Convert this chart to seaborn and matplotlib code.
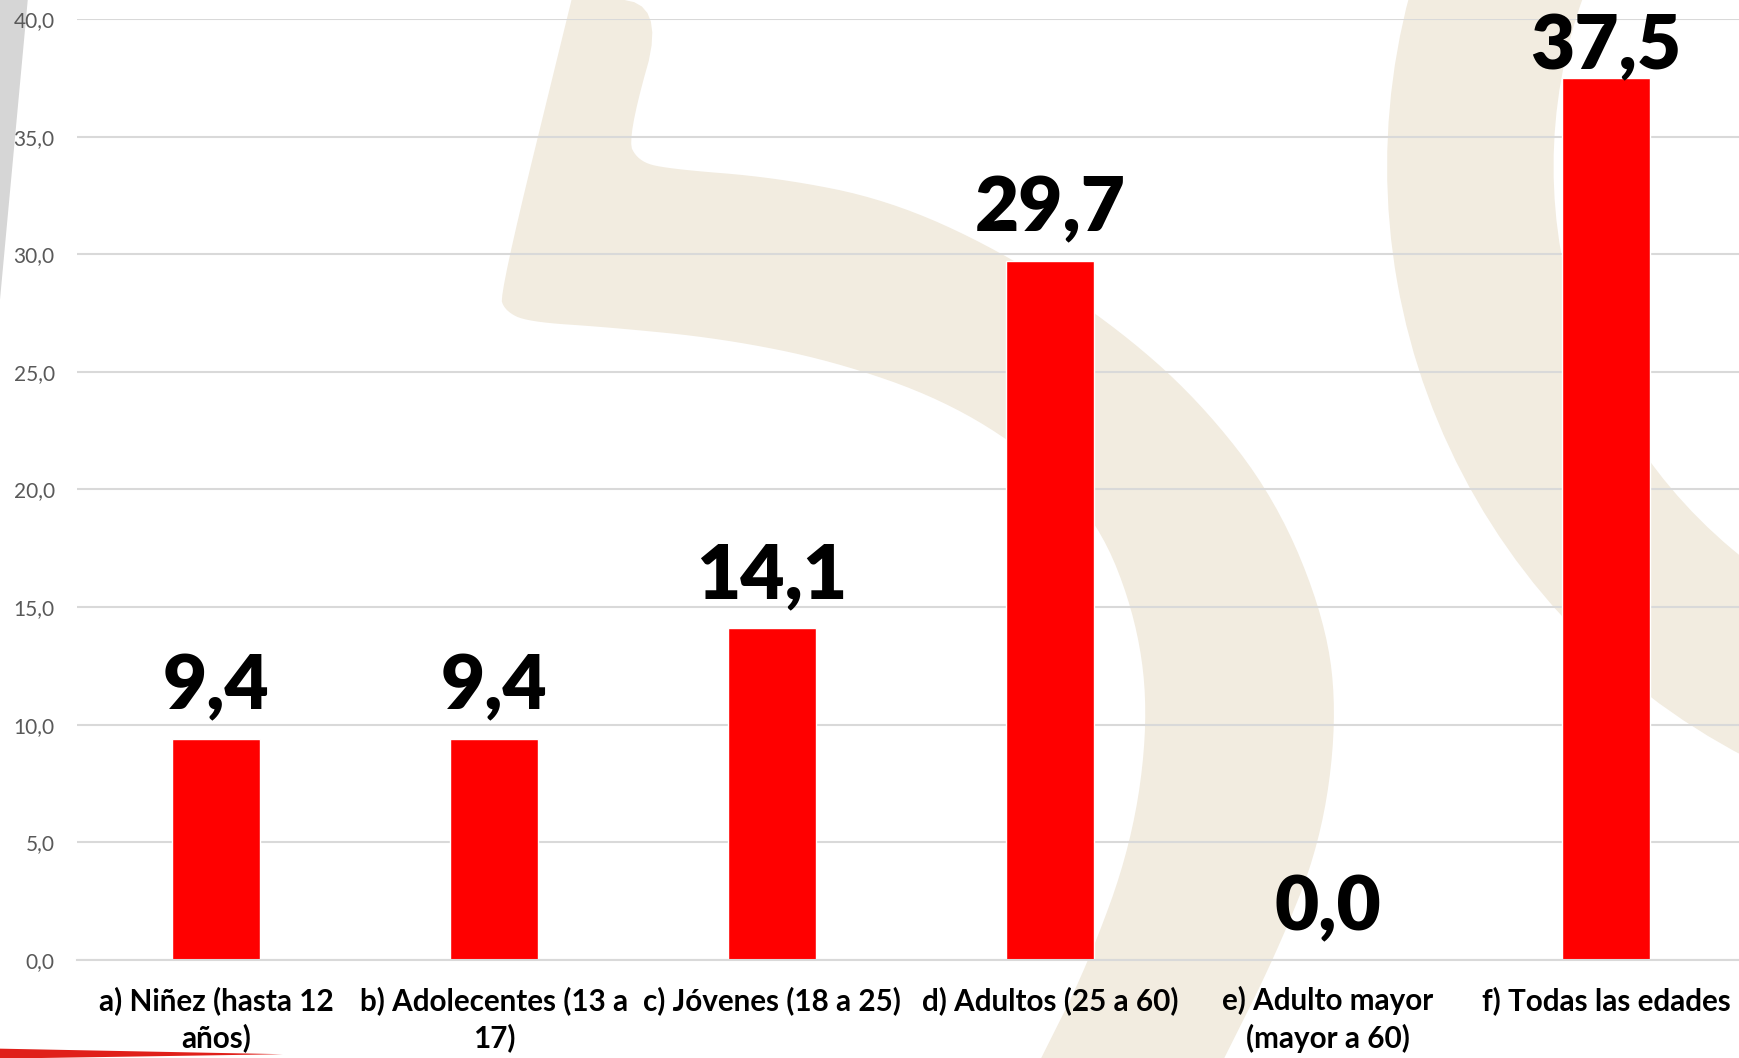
import numpy as np
import pandas as pd
import seaborn as sns
import matplotlib.pyplot as plt
from matplotlib.patches import Polygon, Wedge
from matplotlib.transforms import Affine2D

# data
categorias = ["a) Niñez (hasta 12\naños)", "b) Adolecentes (13 a\n17)", "c) Jóvenes (18 a 25)",
              "d) Adultos (25 a 60)", "e) Adulto mayor\n(mayor a 60)", "f) Todas las edades"]
porcentajes = [9.4, 9.4, 14.1, 29.7, 0.0, 37.5]
y_ticks = [0, 5, 10, 15, 20, 25, 30, 35, 40]

W, H = 1740, 1058
sns.set_style("white")
plt.rcParams['font.family'] = ['Lato', 'DejaVu Sans']


def suavizar(pts, n=3):
    # chaikin corner cutting, keeps the end points
    pts = np.asarray(pts, float)
    for _ in range(n):
        q = 0.75 * pts[:-1] + 0.25 * pts[1:]
        r = 0.25 * pts[:-1] + 0.75 * pts[1:]
        nuevo = np.empty((2 * len(q), 2))
        nuevo[0::2] = q
        nuevo[1::2] = r
        pts = np.vstack([pts[:1], nuevo, pts[-1:]])
    return pts


fig = plt.figure(figsize=(W / 100, H / 100), dpi=100)
fig.patch.set_facecolor('white')

# background watermark ("5" shape etc), drawn in pixel coords of the 1568 wide preview
k = W / 1568
px = Affine2D().scale(k / W, -k / H).translate(0, 1) + fig.transFigure
beige = '#f2ece0'
borde_ext = [(515, 0), (600, 0), (565, 125), (575, 145), (600, 152), (700, 160), (800, 180), (900, 225),
             (1000, 290), (1080, 360), (1150, 450), (1195, 560), (1205, 650), (1190, 760), (1150, 860),
             (1100, 960)]
borde_int = [(935, 960), (980, 870), (1020, 760), (1035, 650), (1025, 560), (990, 470),
             (930, 410), (850, 360), (750, 325), (650, 305), (550, 295), (475, 290), (455, 280),
             (450, 265), (515, 0)]
cinco = np.vstack([suavizar(borde_ext), suavizar(borde_int)])
fig.patches.append(Polygon(cinco, closed=True, fc=beige, ec='none', transform=px, zorder=-5))
fig.patches.append(Wedge((1850, 150), 600, 90, 250, width=150, fc=beige, ec='none',
                         transform=px, zorder=-5))
fig.patches.append(Wedge((1350, 1310), 380, 20, 180, width=90, fc=beige, ec='none',
                         transform=px, zorder=-5))
# grey strip on the left and red strip bottom left
fig.patches.append(Polygon([(0, 0), (25, 0), (0, 270)], closed=True, fc='#d6d6d6', ec='none',
                           transform=px, zorder=-4))
fig.patches.append(Polygon([(0, 945), (255, 950), (0, 954)], closed=True, fc='#e0201a', ec='none',
                           transform=px, zorder=-4))

ax = fig.add_axes([77 / W, 1 - 960 / H, 1668 / W, 941 / H])
ax.set_facecolor('none')

df = pd.DataFrame({'cat': categorias, 'val': porcentajes})
sns.barplot(data=df, x='cat', y='val', color='#ff0000', saturation=1, width=0.315, ax=ax)

ax.set_xlim(-0.5, len(categorias) - 0.5)
ax.set_ylim(0, 40)
ax.set_yticks(y_ticks)
ax.set_yticklabels([f"{t:.1f}".replace('.', ',') for t in y_ticks], color='#595959', fontsize=15)
ax.tick_params(axis='y', length=0, pad=16)
ax.tick_params(axis='x', length=0, pad=19)
for lab in ax.get_xticklabels():
    lab.set_fontsize(21.3)
    lab.set_fontweight('bold')
    lab.set_color('#000000')
    lab.set_linespacing(1.34)
ax.set_xlabel('')
ax.set_ylabel('')
ax.yaxis.grid(True, color='#d9d9d9', lw=1.5)
ax.set_axisbelow(True)
for s in ['top', 'right', 'left']:
    ax.spines[s].set_visible(False)
ax.spines['bottom'].set_color('#d9d9d9')
ax.spines['bottom'].set_linewidth(1.5)

labels = ax.bar_label(ax.containers[0], labels=[f"{v:.1f}".replace('.', ',') for v in porcentajes],
                      padding=12, fontsize=55, fontweight='heavy', color='black')

# keep labels inside the figure like the original (pushed down at the top)
fig.canvas.draw()
r = fig.canvas.get_renderer()
for t in labels:
    top = t.get_window_extent(r).y1
    if top > H - 12:
        x0, y0 = t.xyann
        t.xyann = (x0, y0 - (top - (H - 12)) * 72 / fig.dpi)

fig.savefig('out.png', dpi=100)
